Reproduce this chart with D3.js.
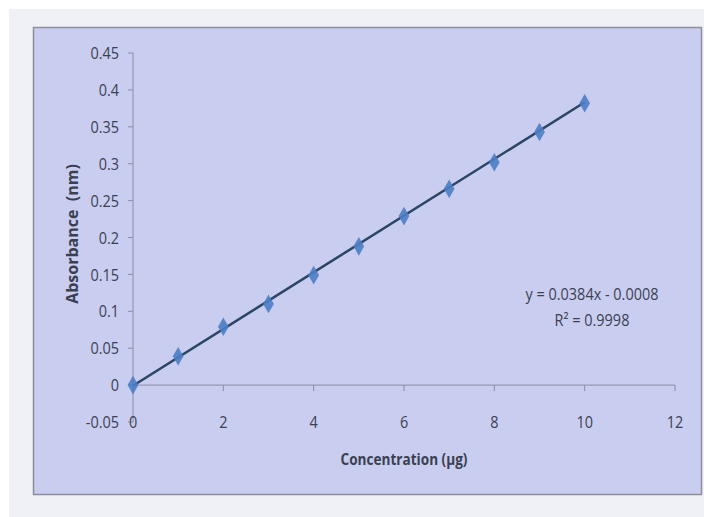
<!DOCTYPE html>
<html>
<head>
<meta charset="utf-8">
<script src="https://cdn.jsdelivr.net/npm/d3@7"></script>
<style>
  body { margin: 0; background: #ffffff; }
  svg { display: block; }
  text { font-family: "Open Sans", sans-serif; fill: #3b3f52; white-space: pre; }
</style>
</head>
<body>
<div id="container"></div>
<script>
// Size of the picture
const width = 704;
const height = 517;

// Data
const concentration = [0, 1, 2, 3, 4, 5, 6, 7, 8, 9, 10];
const absorbance = [0, 0.039, 0.079, 0.110, 0.149, 0.188, 0.229, 0.266, 0.302, 0.343, 0.382];
const xTicks = [0, 2, 4, 6, 8, 10, 12];
const yTicks = [-0.05, 0, 0.05, 0.1, 0.15, 0.2, 0.25, 0.3, 0.35, 0.4, 0.45];
const slope = 0.0384;
const intercept = -0.0008;
const equationLines = ["y = 0.0384x - 0.0008", "R² = 0.9998"];

// Calibri-like look: squeeze the text a little sideways
const squeeze = 0.85;

const svg = d3.select("#container")
    .append("svg")
    .attr("width", width)
    .attr("height", height);

// Page and chart area backgrounds
svg.append("rect")
    .attr("x", 9).attr("y", 9)
    .attr("width", width - 9).attr("height", height - 9)
    .attr("fill", "#f0f1f7");

svg.append("rect")
    .attr("x", 33.5).attr("y", 27.5)
    .attr("width", 668).attr("height", 467)
    .attr("fill", "#c9cdef")
    .attr("stroke", "#8d8f9c")
    .attr("stroke-width", 1.5);

// Scales
const x = d3.scaleLinear()
    .domain([0, 12])
    .range([133, 675]);

const y = d3.scaleLinear()
    .domain([-0.05, 0.45])
    .range([422, 53]);

const axisColor = "#8a8ea6";

// Y axis line and ticks
svg.append("line")
    .attr("x1", x(0)).attr("x2", x(0))
    .attr("y1", y(-0.05)).attr("y2", y(0.45))
    .attr("stroke", axisColor);

svg.append("g")
    .selectAll("line")
    .data(yTicks)
    .enter()
    .append("line")
    .attr("x1", x(0) - 5).attr("x2", x(0))
    .attr("y1", d => y(d)).attr("y2", d => y(d))
    .attr("stroke", axisColor);

svg.append("g")
    .selectAll("text")
    .data(yTicks)
    .enter()
    .append("text")
    .attr("transform", d => `translate(${x(0) - 14},${y(d)}) scale(${squeeze},1)`)
    .attr("dy", "0.36em")
    .attr("text-anchor", "end")
    .attr("font-size", 17)
    .text(d => String(+d.toFixed(2)));

// X axis line at zero, with ticks
svg.append("line")
    .attr("x1", x(0)).attr("x2", x(12))
    .attr("y1", y(0)).attr("y2", y(0))
    .attr("stroke", axisColor);

svg.append("g")
    .selectAll("line")
    .data(xTicks)
    .enter()
    .append("line")
    .attr("x1", d => x(d)).attr("x2", d => x(d))
    .attr("y1", y(0)).attr("y2", y(0) + 6)
    .attr("stroke", axisColor);

svg.append("g")
    .selectAll("text")
    .data(xTicks)
    .enter()
    .append("text")
    .attr("transform", d => `translate(${x(d)},${y(-0.05)}) scale(${squeeze},1)`)
    .attr("dy", "0.36em")
    .attr("text-anchor", "middle")
    .attr("font-size", 17)
    .text(d => d);

// Axis titles
svg.append("text")
    .attr("transform", `translate(72, 234) rotate(-90)`)
    .attr("dy", "0.36em")
    .attr("text-anchor", "middle")
    .attr("font-size", 16)
    .attr("font-weight", "bold")
    .text("Absorbance  (nm)");

svg.append("text")
    .attr("transform", `translate(404, 459) scale(${squeeze},1)`)
    .attr("dy", "0.36em")
    .attr("text-anchor", "middle")
    .attr("font-size", 16)
    .attr("font-weight", "bold")
    .text("Concentration (µg)");

// Trend line
svg.append("line")
    .attr("x1", x(0)).attr("x2", x(10))
    .attr("y1", y(intercept)).attr("y2", y(slope * 10 + intercept))
    .attr("stroke", "#2a4566")
    .attr("stroke-width", 2.5);

// Data points as diamonds
const points = concentration.map((c, i) => ({ c: c, a: absorbance[i] }));

svg.append("g")
    .selectAll("path")
    .data(points)
    .enter()
    .append("path")
    .attr("transform", d => `translate(${x(d.c)},${y(d.a)})`)
    .attr("d", d3.symbol(d3.symbolDiamond, 100))
    .attr("fill", "#4d7ec4")
    .attr("fill-opacity", 0.9);

// Trend equation
svg.append("g")
    .selectAll("text")
    .data(equationLines)
    .enter()
    .append("text")
    .attr("transform", (d, i) => `translate(592,${294 + i * 26}) scale(${squeeze},1)`)
    .attr("dy", "0.36em")
    .attr("text-anchor", "middle")
    .attr("font-size", 17)
    .text(d => d);
</script>
</body>
</html>
